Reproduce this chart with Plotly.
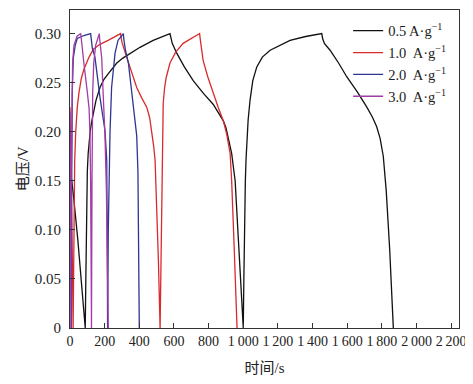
import plotly.graph_objects as go

# ---- data (time in s, voltage in V) ----
labels = ["0.5 A·g<sup>−1</sup>", "1.0  A·g<sup>−1</sup>", "2.0  A·g<sup>−1</sup>", "3.0  A·g<sup>−1</sup>"]
colors = ["#111111", "#d92b2b", "#2e3592", "#a23ca6"]

t_05 = [0, 20, 45, 70, 88,
        91, 94, 97, 100, 105, 110, 117, 125, 137, 150, 173, 195, 220, 245, 270, 305, 340, 404, 480, 530, 577,
        582, 590, 616, 660, 711, 770, 826, 860, 885, 900, 915, 933, 953, 975, 1000,
        1003, 1006, 1009, 1012, 1016, 1020, 1028, 1039, 1055, 1078, 1110, 1155, 1210, 1270, 1360, 1453,
        1458, 1468, 1501, 1550, 1597, 1660, 1713, 1745, 1770, 1790, 1808, 1825, 1845, 1866]
v_05 = [0.165, 0.135, 0.09, 0.04, 0,
        0.045, 0.09, 0.13, 0.16, 0.178, 0.19, 0.201, 0.21, 0.222, 0.232, 0.245, 0.253, 0.259, 0.265, 0.27, 0.275, 0.279, 0.286, 0.293, 0.297, 0.300,
        0.296, 0.290, 0.280, 0.266, 0.252, 0.239, 0.228, 0.218, 0.211, 0.204, 0.193, 0.178, 0.150, 0.08, 0,
        0.045, 0.09, 0.125, 0.15, 0.172, 0.19, 0.212, 0.232, 0.252, 0.266, 0.276, 0.283, 0.288, 0.293, 0.297, 0.300,
        0.295, 0.290, 0.283, 0.270, 0.256, 0.240, 0.225, 0.215, 0.205, 0.193, 0.175, 0.14, 0.08, 0]

t_10 = [0, 8, 15, 18,
        20, 22, 27, 33, 42, 52, 65, 81, 110, 135, 173, 220, 254, 292,
        295, 300, 327, 355, 385, 415, 443, 460, 472, 483, 491, 500, 510, 520,
        523, 526, 529, 532, 538, 546, 555, 577, 610, 653, 700, 748,
        751, 755, 768, 795, 826, 855, 885, 905, 924, 933, 948, 964]
v_10 = [0.225, 0.15, 0.05, 0,
        0.07, 0.12, 0.17, 0.20, 0.225, 0.24, 0.254, 0.264, 0.276, 0.284, 0.289, 0.293, 0.296, 0.300,
        0.296, 0.291, 0.276, 0.262, 0.245, 0.234, 0.225, 0.214, 0.201, 0.185, 0.171, 0.13, 0.07, 0,
        0.05, 0.10, 0.145, 0.18, 0.229, 0.245, 0.255, 0.270, 0.281, 0.290, 0.295, 0.300,
        0.295, 0.289, 0.273, 0.256, 0.239, 0.225, 0.211, 0.197, 0.178, 0.150, 0.08, 0]

t_20 = [0, 5, 8,
        10, 13, 19, 30, 42, 80, 119,
        121, 125, 129, 144, 173, 202, 212, 215, 217,
        219, 221, 226, 231, 240, 250, 260, 277, 308,
        310, 314, 320, 337, 352, 366, 385, 392, 396, 400]
v_20 = [0.20, 0.08, 0,
        0.15, 0.24, 0.275, 0.288, 0.295, 0.298, 0.300,
        0.295, 0.289, 0.285, 0.276, 0.235, 0.201, 0.171, 0.09, 0,
        0.05, 0.10, 0.17, 0.20, 0.245, 0.267, 0.280, 0.293, 0.300,
        0.295, 0.289, 0.283, 0.270, 0.248, 0.224, 0.196, 0.16, 0.09, 0]

t_30 = [0, 3, 5,
        7, 10, 15, 23, 40, 62,
        64, 67, 71, 80, 90, 100, 110, 115, 119, 122, 124,
        127, 131, 137, 148, 164, 169,
        171, 174, 183, 191, 202, 210, 216, 221]
v_30 = [0.22, 0.10, 0,
        0.15, 0.24, 0.27, 0.288, 0.297, 0.300,
        0.295, 0.289, 0.285, 0.270, 0.257, 0.240, 0.224, 0.20, 0.15, 0.07, 0,
        0.15, 0.24, 0.27, 0.288, 0.297, 0.300,
        0.295, 0.289, 0.275, 0.240, 0.196, 0.14, 0.07, 0]

x_tickvals = [0, 200, 400, 600, 800, 1000, 1200, 1400, 1600, 1800, 2000, 2200]
x_ticktext = ["0", "200", "400", "600", "800", "1\u2009000", "1\u2009200", "1\u2009400",
              "1\u2009600", "1\u2009800", "2\u2009000", "2\u2009200"]
y_tickvals = [0, 0.05, 0.10, 0.15, 0.20, 0.25, 0.30]
y_ticktext = ["0", "0.05", "0.10", "0.15", "0.20", "0.25", "0.30"]
x_title = "时间/s"
y_title = "电压/V"

series = [(t_05, v_05), (t_10, v_10), (t_20, v_20), (t_30, v_30)]

fig = go.Figure()
for (t, v), name, c in zip(series, labels, colors):
    fig.add_trace(go.Scatter(x=t, y=v, mode="lines", name=name,
                             line=dict(color=c, width=1.3)))

font_family = "Liberation Serif, Noto Sans CJK SC, serif"
fig.update_layout(
    width=465, height=376,
    margin=dict(l=62, r=14, t=2, b=56),
    plot_bgcolor="white", paper_bgcolor="white",
    font=dict(family=font_family, size=14, color="#222"),
    showlegend=True,
    legend=dict(x=0.715, y=0.985, xanchor="left", yanchor="top",
                bgcolor="rgba(0,0,0,0)", font=dict(size=14.5), tracegroupgap=0,
                itemwidth=30),
    annotations=[dict(text=y_title, textangle=-90, xref="paper", yref="paper",
                      x=-0.12, y=0.5, xanchor="center", yanchor="middle",
                      showarrow=False, font=dict(size=15))],
)
fig.update_xaxes(range=[0, 2245], tickvals=x_tickvals, ticktext=x_ticktext,
                 ticks="inside", ticklen=5, tickcolor="#333", showgrid=False, zeroline=False,
                 showline=True, linecolor="#333", linewidth=1, mirror=True, automargin=False,
                 tickfont=dict(size=14),
                 title=dict(text=x_title, font=dict(size=15), standoff=14))
fig.update_yaxes(range=[0, 0.324], tickvals=y_tickvals, ticktext=y_ticktext,
                 ticks="inside", ticklen=5, tickcolor="#333", showgrid=False, zeroline=False,
                 showline=True, linecolor="#333", linewidth=1, mirror=True, automargin=False,
                 tickfont=dict(size=15), ticklabelstandoff=5)

fig.write_html("out.html")
